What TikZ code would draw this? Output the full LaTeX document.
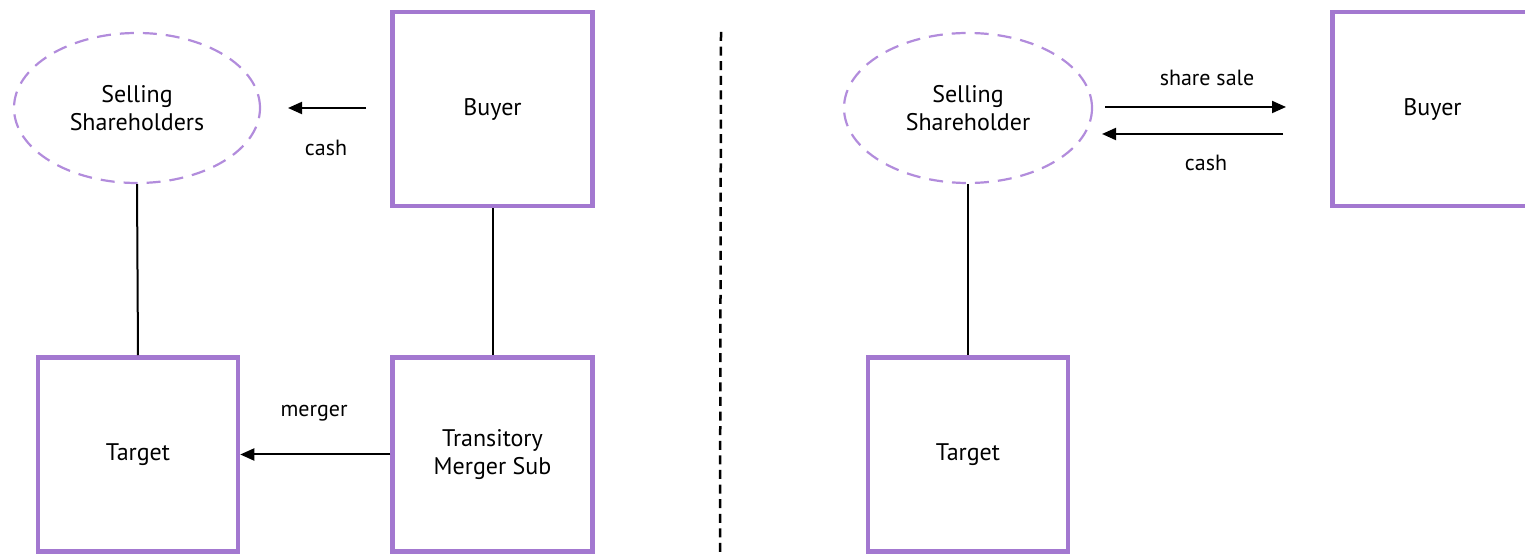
\documentclass[tikz,border=0pt]{standalone}
\usepackage{fontspec}
\setmainfont{PT Sans}
\usetikzlibrary{arrows.meta,shapes.geometric}
\definecolor{purp}{RGB}{163,120,208}
\definecolor{purpl}{RGB}{178,140,220}
\begin{document}
\begin{tikzpicture}[x=1pt,y=1pt,
  ent/.style={draw=purp,line width=4.5pt,minimum width=200pt,minimum height=194pt,inner sep=0pt,align=center,font=\fontsize{24}{28}\selectfont},
  holder/.style={ellipse,draw=purpl,line width=2.2pt,dash pattern=on 14pt off 9pt,inner sep=0pt,align=center,font=\fontsize{24}{28}\selectfont},
  arr/.style={line width=2pt,-{Triangle[length=14pt,width=12pt]}},
  link/.style={line width=2pt},
  lbl/.style={font=\fontsize{22}{24}\selectfont,inner sep=0pt}]
\useasboundingbox (0,0) rectangle (1525,556);
\begin{scope}
\clip (0,0) rectangle (1525,556);
% left side
\node[holder,minimum width=246pt,minimum height=150pt] (ssL) at (137,448) {Selling\\Shareholders};
\node[ent] (buyL) at (492.5,447) {Buyer};
\node[ent] (tgtL) at (138,101.5) {Target};
\node[ent] (tms) at (492.5,101.5) {Transitory\\Merger Sub};
\draw[link] (ssL.south) -- (tgtL.north);
\draw[link] (buyL.south) -- (tms.north);
\coordinate (cashLs) at (366,448);
\coordinate (cashLe) at (288,448);
\draw[arr] (cashLs) -- (cashLe);
\node[lbl] (cashLt) at (326,408) {cash};
\draw[arr] (tms.west) -- (tgtL.east);
\node[lbl] (mergt) at (314,143) {merger};
% divider
\coordinate (divT) at (721,524);
\coordinate (divB) at (720,2);
\draw[line width=2.5pt,dash pattern=on 9pt off 5.6pt] (divT) -- (divB);
% right side
\node[holder,minimum width=248pt,minimum height=150pt] (ssR) at (968,448) {Selling\\Shareholder};
\node[ent] (buyR) at (1432.5,447) {Buyer};
\node[ent] (tgtR) at (968,101.5) {Target};
\draw[link] (ssR.south) -- (tgtR.north);
\coordinate (ssA) at (1105,449);
\coordinate (ssB) at (1286,449);
\draw[arr] (ssA) -- (ssB);
\node[lbl] (sst) at (1207,478) {share sale};
\coordinate (cRA) at (1283,422);
\coordinate (cRB) at (1102,422);
\draw[arr] (cRA) -- (cRB);
\node[lbl] (cRt) at (1206,393) {cash};
\end{scope}
\end{tikzpicture}
\end{document}
